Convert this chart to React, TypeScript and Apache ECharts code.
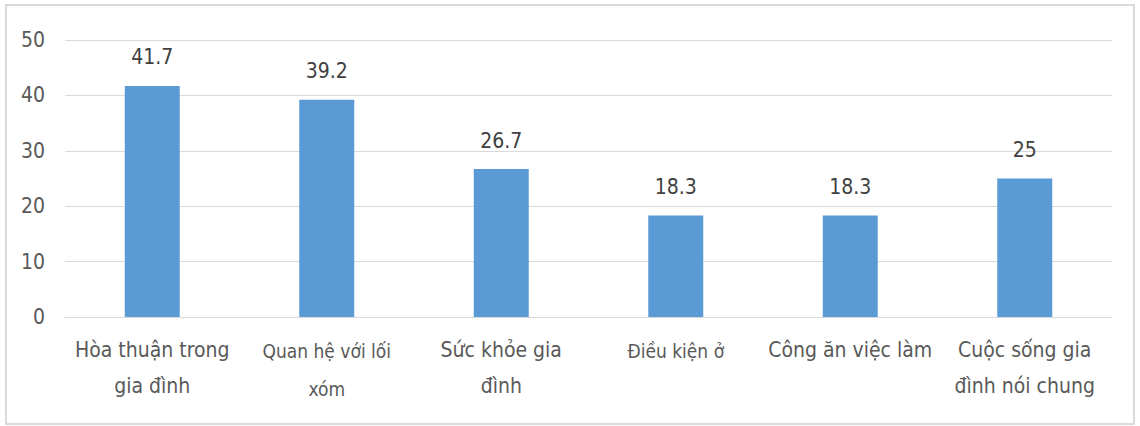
import React, { useEffect, useRef } from "react";
import * as echarts from "echarts";

const categories = [
  "Hòa thuận trong\ngia đình",
  "Quan hệ với lối\nxóm",
  "Sức khỏe gia\nđình",
  "Điều kiện ở",
  "Công ăn việc làm",
  "Cuộc sống gia\nđình nói chung",
];
const smallLabel = [false, true, false, true, false, false];
const values = [41.7, 39.2, 26.7, 18.3, 18.3, 25];
const yTicks = { min: 0, max: 50, interval: 10 };

const FONT = "'Liberation Sans Narrow', 'DejaVu Sans Condensed', 'Arial Narrow', sans-serif";

export default function App() {
  const ref = useRef<HTMLDivElement>(null);
  useEffect(() => {
    document.body.style.margin = "0";
    const chart = echarts.init(ref.current!, null, { renderer: "svg" });
    chart.setOption({
      animation: false,
      backgroundColor: "#ffffff",
      graphic: [
        {
          type: "rect",
          shape: { x: 6, y: 5, width: 1128, height: 419 },
          style: { fill: "none", stroke: "#D9D9D9", lineWidth: 2 },
          silent: true,
        },
      ],
      grid: { left: 65, right: 28, top: 40, bottom: 109 },
      xAxis: {
        type: "category",
        data: categories,
        axisLine: { lineStyle: { color: "#D9D9D9", width: 1 } },
        axisTick: { show: false },
        axisLabel: {
          interval: 0,
          margin: 15,
          color: "#595959",
          fontFamily: FONT,
          formatter: (v: string) => {
            const i = categories.indexOf(v);
            const st = smallLabel[i] ? "s" : "b";
            return v
              .split("\n")
              .map((l) => `{${st}|${l}}`)
              .join("\n");
          },
          rich: {
            b: { fontSize: 21, lineHeight: 36, color: "#595959", fontFamily: FONT },
            s: { fontSize: 19, lineHeight: 38, color: "#595959", fontFamily: FONT },
          },
        },
      },
      yAxis: {
        type: "value",
        min: yTicks.min,
        max: yTicks.max,
        interval: yTicks.interval,
        axisLine: { show: false },
        axisTick: { show: false },
        splitLine: { lineStyle: { color: "#D9D9D9", width: 1 } },
        axisLabel: {
          color: "#595959",
          fontSize: 21,
          fontFamily: FONT,
          margin: 20,
        },
      },
      series: [
        {
          type: "bar",
          data: values,
          barWidth: 55,
          itemStyle: { color: "#5B9BD5" },
          label: {
            show: true,
            position: "top",
            distance: 18,
            color: "#404040",
            fontSize: 21,
            fontFamily: FONT,
          },
        },
      ],
    });
    return () => chart.dispose();
  }, []);
  return <div ref={ref} style={{ width: 1140, height: 426 }} />;
}
